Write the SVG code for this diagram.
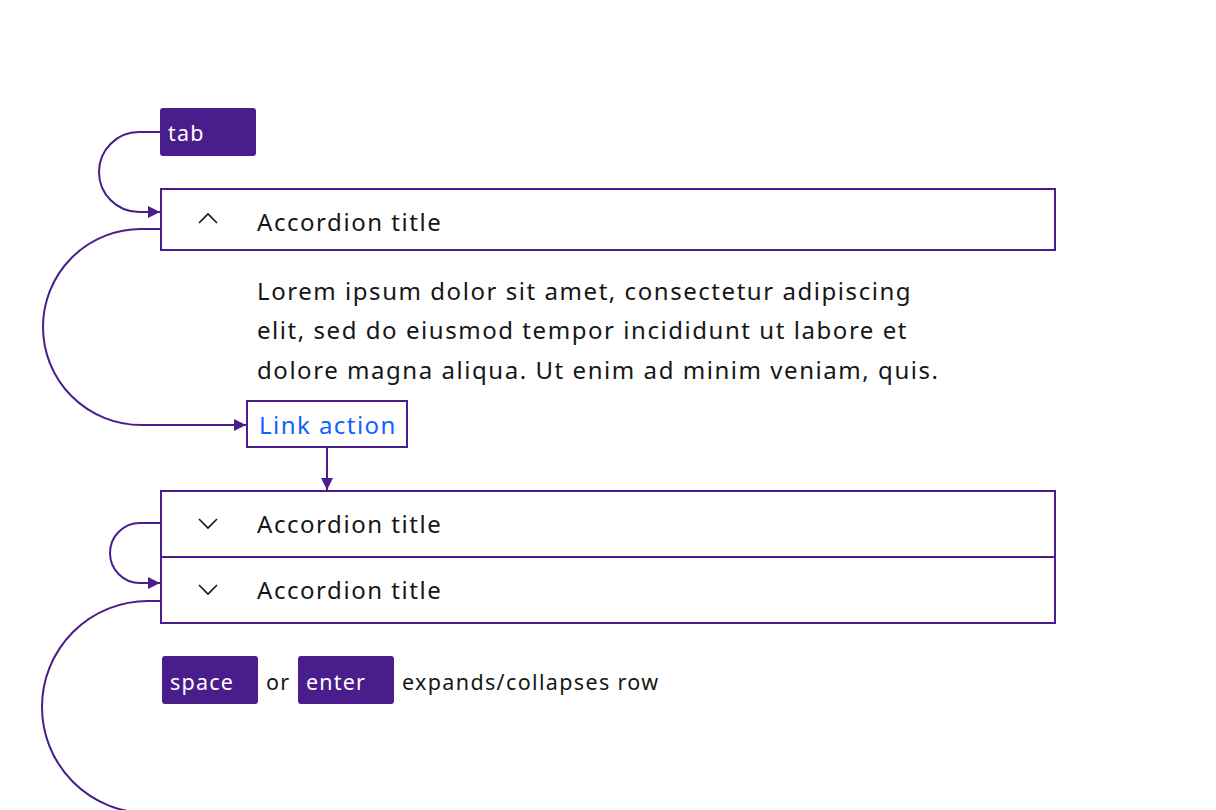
<svg xmlns="http://www.w3.org/2000/svg" width="1216" height="810" viewBox="0 0 1216 810">
<defs>
<style>
.key{fill:#491d8b}
.keyt{fill:#ffffff;font-family:"Noto Sans","Open Sans",sans-serif;font-size:21.5px;letter-spacing:1.2px}
.box{fill:#ffffff;stroke:#491d8b;stroke-width:2}
.t{fill:#161616;font-family:"Noto Sans","Open Sans",sans-serif;font-size:24px;letter-spacing:1.55px}
.s{fill:#161616;font-family:"Noto Sans","Open Sans",sans-serif;font-size:21.5px;letter-spacing:1.35px}
.chev{fill:none;stroke:#161616;stroke-width:1.6}
.conn{fill:none;stroke:#491d8b;stroke-width:2}
</style>
<marker id="ah" viewBox="0 0 10 10" refX="10" refY="5" markerWidth="12" markerHeight="12" markerUnits="userSpaceOnUse" orient="auto">
<path d="M0,0 L10,5 L0,10 Z" fill="#491d8b"/>
</marker>
</defs>
<rect width="1216" height="810" fill="#ffffff"/>
<g id="connectors">
<path class="conn" d="M160,132 H139 A40,40 0 0 0 139,212 H160" marker-end="url(#ah)"/>
<path class="conn" d="M160,229 H141 A98,98 0 0 0 141,425 H246" marker-end="url(#ah)"/>
<path class="conn" d="M327,447 V490" marker-end="url(#ah)"/>
<path class="conn" d="M160,523 H140 A30,30 0 0 0 140,583 H160" marker-end="url(#ah)"/>
<path class="conn" d="M160,601 H148 A106,106 0 0 0 148,813"/>
</g>
<g id="tab-key">
<rect class="key" x="160" y="108" width="96" height="48" rx="3"/>
<text class="keyt" x="168" y="141">tab</text>
</g>
<g id="accordion-1">
<rect class="box" x="161" y="189" width="894" height="61"/>
<polyline class="chev" points="199,223 208,214 217,223"/>
<text class="t" x="257" y="231">Accordion title</text>
</g>
<g id="accordion-1-content">
<text class="t" x="257" y="300">Lorem ipsum dolor sit amet, consectetur adipiscing</text>
<text class="t" x="257" y="339">elit, sed do eiusmod tempor incididunt ut labore et</text>
<text class="t" x="257" y="379">dolore magna aliqua. Ut enim ad minim veniam, quis.</text>
</g>
<g id="link-action">
<rect class="box" x="247" y="401" width="160" height="46"/>
<text x="259" y="434" style="fill:#0f62fe;font-family:'Noto Sans','Open Sans',sans-serif;font-size:24px;letter-spacing:1.45px">Link action</text>
</g>
<g id="accordion-2">
<rect class="box" x="161" y="491" width="894" height="66"/>
<polyline class="chev" points="199,519 208,528 217,519"/>
<text class="t" x="257" y="533">Accordion title</text>
</g>
<g id="accordion-3">
<rect class="box" x="161" y="557" width="894" height="66"/>
<polyline class="chev" points="199,585 208,594 217,585"/>
<text class="t" x="257" y="599">Accordion title</text>
</g>
<g id="space-key">
<rect class="key" x="162" y="656" width="96" height="48" rx="3"/>
<text class="keyt" x="170" y="690">space</text>
</g>
<text class="s" x="266" y="690">or</text>
<g id="enter-key">
<rect class="key" x="298" y="656" width="96" height="48" rx="3"/>
<text class="keyt" x="306" y="690">enter</text>
</g>
<text class="s" x="402" y="690">expands/collapses row</text>
</svg>
